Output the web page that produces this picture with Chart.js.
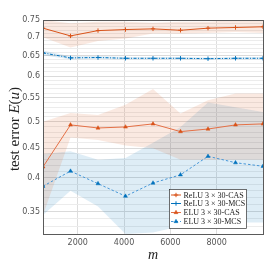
<!DOCTYPE html>
<html lang="en">

<head>
    <meta charset="UTF-8">
    <title>Test error vs m</title>
    <style>
        body {
            margin: 0;
            background-color: #ffffff;
        }

        .chart-container {
            width: 274px;
            height: 274px;
        }
    </style>
</head>

<body>
    <div class="chart-container">
        <canvas id="errorChart"></canvas>
    </div>

    <script src="https://cdn.jsdelivr.net/npm/chart.js"></script>
    <script>
        // sample sizes m
        const mValues = [500, 1687.5, 2875, 4062.5, 5250, 6437.5, 7625, 8812.5, 10000];

        // mean test error
        const reluCas = [0.726, 0.704, 0.719, 0.722, 0.724, 0.720, 0.726, 0.728, 0.730];
        const reluMcs = [0.658, 0.645, 0.646, 0.644, 0.644, 0.644, 0.643, 0.644, 0.644];
        const eluCas = [0.418, 0.494, 0.488, 0.490, 0.496, 0.481, 0.486, 0.494, 0.496];
        const eluMcs = [0.387, 0.411, 0.391, 0.372, 0.392, 0.405, 0.436, 0.425, 0.419];

        // shaded bands (lower / upper)
        const reluCasLow = [0.700, 0.672, 0.690, 0.697, 0.711, 0.710, 0.712, 0.715, 0.712];
        const reluCasHigh = [0.750, 0.740, 0.745, 0.745, 0.742, 0.745, 0.745, 0.750, 0.750];
        const reluMcsLow = [0.652, 0.641, 0.642, 0.641, 0.641, 0.641, 0.640, 0.641, 0.641];
        const reluMcsHigh = [0.664, 0.649, 0.650, 0.647, 0.647, 0.647, 0.646, 0.647, 0.647];
        const eluCasLow = [0.345, 0.470, 0.465, 0.455, 0.450, 0.430, 0.430, 0.430, 0.430];
        const eluCasHigh = [0.500, 0.518, 0.514, 0.535, 0.570, 0.517, 0.545, 0.560, 0.560];
        const eluMcsLow = [0.345, 0.380, 0.357, 0.320, 0.322, 0.330, 0.330, 0.335, 0.335];
        const eluMcsHigh = [0.440, 0.445, 0.430, 0.433, 0.460, 0.490, 0.540, 0.530, 0.520];

        // tick labels
        const yTickLabels = [0.35, 0.4, 0.45, 0.5, 0.55, 0.6, 0.65, 0.7, 0.75];
        const xTickLabels = [2000, 4000, 6000, 8000];

        const legendLabels = ['ReLU 3 \u00d7 30-CAS', 'ReLU 3 \u00d7 30-MCS', 'ELU 3 \u00d7 30-CAS', 'ELU 3 \u00d7 30-MCS'];

        const orange = 'rgb(217, 83, 25)';
        const orangeLight = 'rgb(228, 112, 70)';
        const blue = 'rgb(0, 114, 189)';
        const blueLight = 'rgb(70, 150, 215)';
        const orangeFill = 'rgba(217, 83, 25, 0.13)';
        const blueFill = 'rgba(0, 114, 189, 0.13)';

        const pts = arr => arr.map((v, i) => ({ x: mValues[i], y: v }));

        function band(low, high, color) {
            return [
                { data: pts(high), borderWidth: 0, pointRadius: 0, fill: '+1', backgroundColor: color },
                { data: pts(low), borderWidth: 0, pointRadius: 0, fill: false }
            ];
        }

        const lines = [
            { data: pts(reluCas), borderColor: orange, backgroundColor: orange, pointBorderColor: orange, borderWidth: 1, pointStyle: 'cross', pointRadius: 2.2, pointBorderWidth: 1 },
            { data: pts(reluMcs), borderColor: blue, backgroundColor: blue, pointBorderColor: blue, borderWidth: 1, borderDash: [3, 1.5, 1, 1.5], pointStyle: 'cross', pointRadius: 2.2, pointBorderWidth: 1 },
            { data: pts(eluCas), borderColor: orangeLight, backgroundColor: orange, pointBorderColor: orange, borderWidth: 1, pointStyle: 'triangle', pointRadius: 2.3, pointBorderWidth: 0.5 },
            { data: pts(eluMcs), borderColor: blueLight, backgroundColor: blue, pointBorderColor: blue, borderWidth: 1, borderDash: [2.5, 2], pointStyle: 'triangle', pointRadius: 2.3, pointBorderWidth: 0.5 }
        ];
        lines.forEach(d => { d.fill = false; d.tension = 0; });

        const datasets = [
            ...band(reluCasLow, reluCasHigh, orangeFill),
            ...band(reluMcsLow, reluMcsHigh, blueFill),
            ...band(eluCasLow, eluCasHigh, orangeFill),
            ...band(eluMcsLow, eluMcsHigh, blueFill),
            ...lines
        ];

        // frame, axis titles and legend
        const decorations = {
            id: 'decorations',
            afterDraw(chart) {
                const ctx = chart.ctx;
                const a = chart.chartArea;
                ctx.save();
                ctx.strokeStyle = '#5a5a5a';
                ctx.lineWidth = 1;
                ctx.strokeRect(Math.round(a.left) + 0.5, Math.round(a.top) + 0.5, Math.round(a.right - a.left), Math.round(a.bottom - a.top));

                // x title
                ctx.fillStyle = '#222';
                ctx.font = 'italic 14px "Liberation Serif"';
                ctx.textAlign = 'center';
                ctx.textBaseline = 'middle';
                ctx.fillText('m', (a.left + a.right) / 2, 255);

                // y title
                ctx.translate(15, 129);
                ctx.rotate(-Math.PI / 2);
                const fN = '15px "Liberation Serif"';
                const fI = 'italic 15px "Liberation Serif"';
                const parts = [['test error ', fN], ['E', fI], ['(', fN], ['u', fI], [')', fN]];
                let total = 0;
                parts.forEach(p => { ctx.font = p[1]; total += ctx.measureText(p[0]).width; });
                let x = -total / 2;
                ctx.textAlign = 'left';
                parts.forEach(p => { ctx.font = p[1]; ctx.fillText(p[0], x, 0); x += ctx.measureText(p[0]).width; });
                ctx.restore();

                // legend
                ctx.save();
                const lx = 169.5, ly = 189.5, lw = 77, lh = 39;
                ctx.fillStyle = '#fff';
                ctx.fillRect(lx, ly, lw, lh);
                ctx.strokeStyle = '#333';
                ctx.lineWidth = 0.7;
                ctx.strokeRect(lx, ly, lw, lh);
                const rows = [195, 203.5, 212.5, 221.5];
                lines.forEach((d, i) => {
                    const y = rows[i];
                    ctx.strokeStyle = d.borderColor;
                    ctx.lineWidth = 1;
                    ctx.setLineDash(d.borderDash || []);
                    ctx.beginPath();
                    ctx.moveTo(171, y);
                    ctx.lineTo(181, y);
                    ctx.stroke();
                    ctx.setLineDash([]);
                    ctx.fillStyle = d.backgroundColor;
                    ctx.strokeStyle = d.pointBorderColor;
                    ctx.lineWidth = d.pointBorderWidth;
                    Chart.helpers.drawPoint(ctx, {
                        pointStyle: d.pointStyle,
                        radius: d.pointRadius,
                        borderWidth: d.pointBorderWidth,
                        rotation: 0
                    }, 176, y);
                    ctx.fillStyle = '#222';
                    ctx.font = '8px "Liberation Serif"';
                    ctx.textAlign = 'left';
                    ctx.textBaseline = 'middle';
                    ctx.fillText(legendLabels[i], 183.5, y + 0.5);
                });
                ctx.restore();
            }
        };

        const ctx = document.getElementById('errorChart').getContext('2d');

        new Chart(ctx, {
            type: 'line',
            data: { datasets: datasets },
            options: {
                responsive: true,
                maintainAspectRatio: false,
                animation: false,
                layout: { padding: { left: 0, right: 11, top: 20, bottom: 0 } },
                plugins: {
                    legend: { display: false },
                    tooltip: { enabled: false },
                    filler: { drawTime: 'beforeDatasetsDraw' }
                },
                scales: {
                    x: {
                        type: 'linear',
                        min: 500,
                        max: 10000,
                        afterBuildTicks: scale => { scale.ticks = xTickLabels.map(v => ({ value: v })); },
                        afterFit: scale => { scale.height = 40; },
                        grid: { color: '#dedede', lineWidth: 1, drawTicks: false },
                        border: { display: false },
                        ticks: {
                            padding: 4,
                            color: '#555',
                            font: { family: 'DejaVu Sans', size: 8 },
                            maxRotation: 0,
                            autoSkip: false,
                            callback: v => String(v)
                        }
                    },
                    y: {
                        type: 'logarithmic',
                        min: 0.32,
                        max: 0.75,
                        afterBuildTicks: scale => {
                            const t = [];
                            for (let k = 32; k <= 75; k++) t.push({ value: k / 100 });
                            scale.ticks = t;
                        },
                        afterFit: scale => { scale.width = 43; },
                        grid: {
                            color: c => (yTickLabels.some(v => Math.abs(v - c.tick.value) < 1e-6) ? '#dadada' : '#ececec'),
                            lineWidth: 1,
                            drawTicks: false
                        },
                        border: { display: false },
                        ticks: {
                            padding: 3,
                            color: '#555',
                            font: { family: 'DejaVu Sans', size: 8 },
                            autoSkip: false,
                            callback: v => {
                                const hit = yTickLabels.find(t => Math.abs(t - v) < 1e-6);
                                return hit === undefined ? '' : String(hit);
                            }
                        }
                    }
                }
            },
            plugins: [decorations]
        });
    </script>
</body>

</html>
